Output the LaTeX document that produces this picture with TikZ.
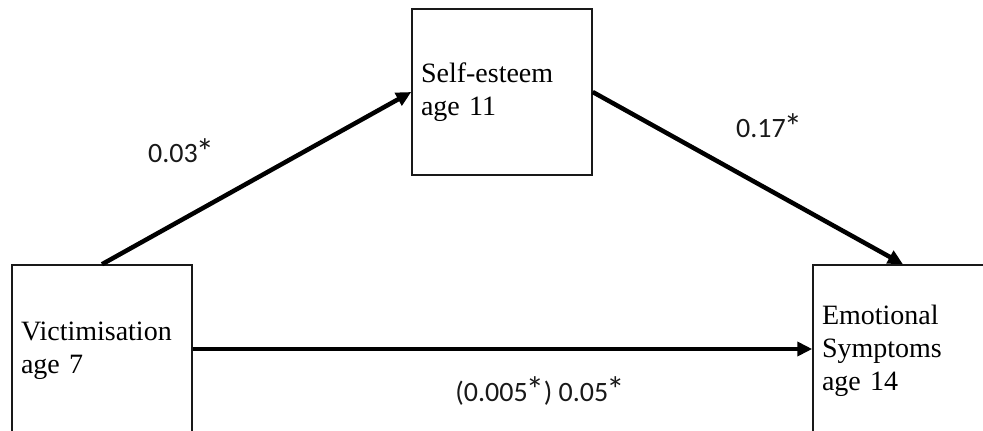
\documentclass[tikz,border=0pt]{standalone}
\usepackage{graphicx}
\usepackage{fontspec}
\setmainfont{Liberation Serif}
\newfontfamily\labelfont{Carlito}
\usetikzlibrary{arrows.meta}
% significance mark, set large and close to the digits
\newcommand\sigmark{\kern-0.07em\raisebox{-0.07em}{\scalebox{1.3}{*}}}
\begin{document}
\begin{tikzpicture}[x=1pt,y=-1pt,
  varbox/.style={draw=black!90, line width=1.5pt, rectangle,
    minimum width=180pt, minimum height=166pt, text width=162pt,
    inner xsep=9pt, inner ysep=0pt, align=left,
    font=\fontsize{28}{33}\selectfont},
  lowbox/.style={varbox, minimum height=172pt},
  path/.style={line width=4.5pt, -{Triangle[length=15pt,width=14pt]}},
  coef/.style={font=\labelfont\fontsize{28}{30}\selectfont, text=black!90, inner sep=0pt}]
  \useasboundingbox (0,0) rectangle (983,431);

  % variable boxes
  \node[varbox] (self) at (502,92) {Self-esteem\\age 11};
  \node[lowbox] (vict) at (102,351) {Victimisation\\age 7};
  \node[lowbox] (emot) at (903,351) {Emotional\\Symptoms\\age 14};

  % paths between variables
  \draw[path] (vict.north) -- (self.west);
  \draw[path] (self.east) -- (emot.north);
  \draw[path] ([yshift=2pt]vict.east) -- ([yshift=2pt]emot.west);

  % path coefficients
  \node[coef] (a) at (181,152) {0.03\sigmark};
  \node[coef] (b) at (769,127) {0.17\sigmark};
  \node[coef] (c) at (540,391) {(0.005\sigmark) 0.05\sigmark};
\end{tikzpicture}
\end{document}
